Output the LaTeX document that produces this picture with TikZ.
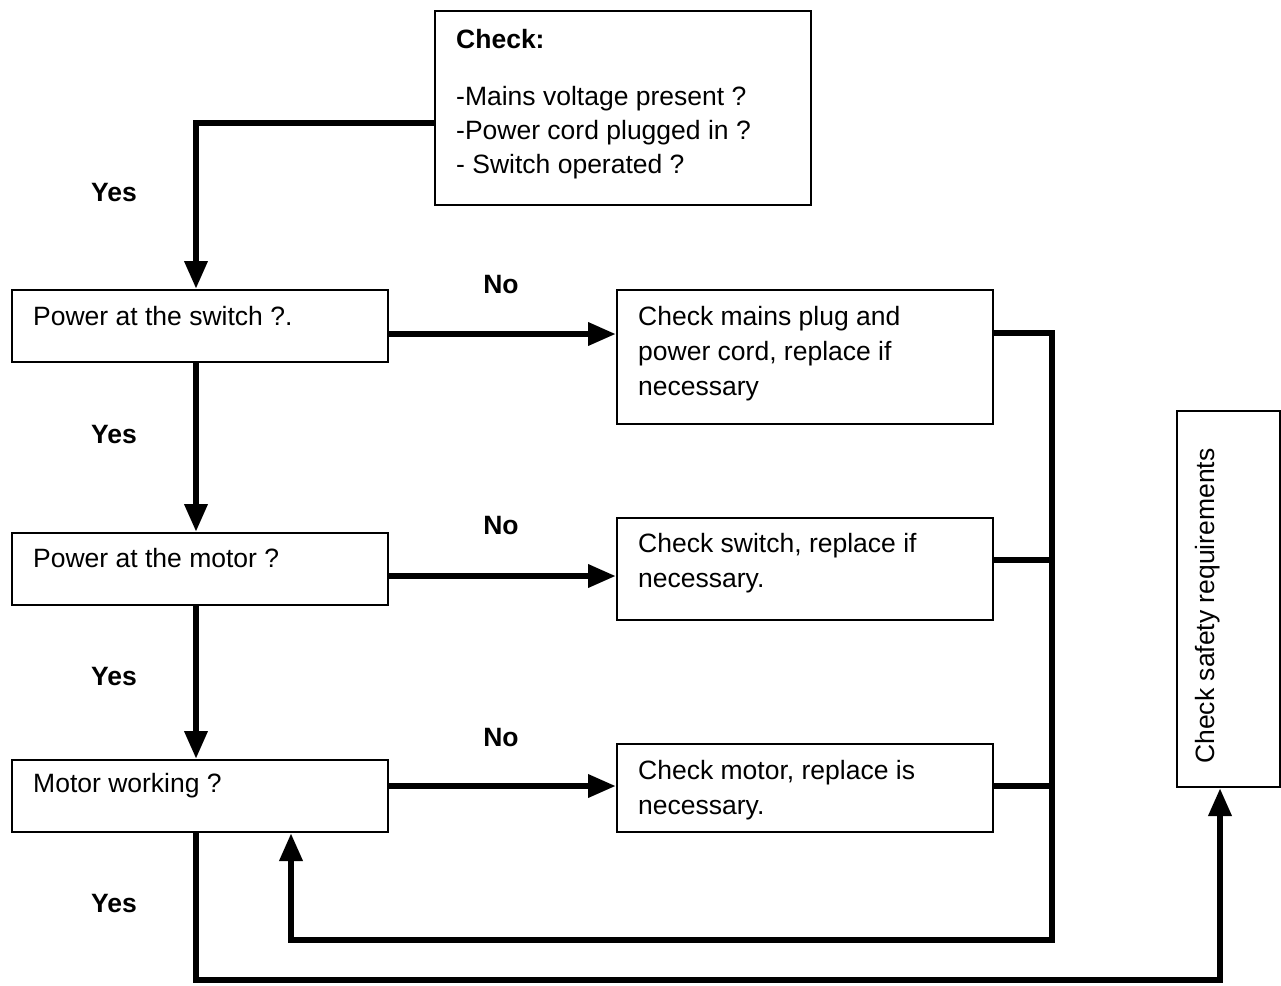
\documentclass[tikz,border=0pt]{standalone}
\usepackage{fontspec}
\setmainfont{Liberation Sans}
\usetikzlibrary{arrows.meta}
\begin{document}
\begin{tikzpicture}[x=1pt,y=-1pt,
  box/.style={draw,line width=2pt,rectangle,anchor=north west,inner sep=0pt},
  txt/.style={anchor=west,inner sep=0pt,align=left,font=\fontsize{26.5}{35}\selectfont},
  lbl/.style={inner sep=0pt,font=\fontsize{26.5}{35}\selectfont\bfseries},
  conn/.style={line width=6.5pt},
  arr/.style={line width=6.5pt,-{Triangle[width=22pt,length=28pt]}}]
\useasboundingbox (0,0) rectangle (1281,985);
% boxes
\node[box,minimum width=376pt,minimum height=194pt] (chk) at (434,10) {};
\node[txt] (chkt) at (456,39) {\bfseries Check:};
\node[txt,anchor=north west,font=\fontsize{26.5}{34}\selectfont] (chkl) at (456,86) {-Mains voltage present ?\\-Power cord plugged in ?\\- Switch operated ?};
\node[box,minimum width=376pt,minimum height=72pt] (ps) at (11,289) {};
\node[txt] (pst) at (33,316) {Power at the switch ?.};
\node[box,minimum width=376pt,minimum height=72pt] (pm) at (11,532) {};
\node[txt] (pmt) at (33,558) {Power at the motor ?};
\node[box,minimum width=376pt,minimum height=72pt] (mw) at (11,759) {};
\node[txt] (mwt) at (33,786) {Motor working ?};
\node[box,minimum width=376pt,minimum height=134pt] (cm) at (616,289) {};
\node[txt,anchor=north west] (cmt) at (638,306) {Check mains plug and\\power cord, replace if\\necessary};
\node[box,minimum width=376pt,minimum height=102pt] (cs) at (616,517) {};
\node[txt,anchor=north west] (cst) at (638,533) {Check switch, replace if\\necessary.};
\node[box,minimum width=376pt,minimum height=88pt] (cmo) at (616,743) {};
\node[txt,anchor=north west] (cmot) at (638,760) {Check motor, replace is\\necessary.};
\node[box,minimum width=103pt,minimum height=376pt] (saf) at (1176,410) {};
\node[txt,anchor=center,rotate=90] (saft) at (1208,606) {Check safety requirements};
% labels
\node[lbl] (y1) at (114,193) {Yes};
\node[lbl] (y2) at (114,435) {Yes};
\node[lbl] (y3) at (114,677) {Yes};
\node[lbl] (y4) at (114,903) {Yes};
\node[lbl] (n1) at (501,285) {No};
\node[lbl] (n2) at (501,526) {No};
\node[lbl] (n3) at (501,738) {No};
% coordinates
\coordinate (c1) at (196,123);
\coordinate (b1) at (1052,333);
\coordinate (b2) at (1052,940);
\coordinate (b3) at (291,940);
\coordinate (d1) at (196,980);
\coordinate (d2) at (1220,980);
% connectors
\draw[arr,line join=miter] (chk.west |- c1) -- (c1) -- (c1 |- ps.north);
\draw[arr] (196,361) -- (196,532);
\draw[arr] (196,604) -- (196,759);
\draw[arr] (ps.east |- 0,334) -- (cm.west |- 0,334);
\draw[arr] (pm.east |- 0,576) -- (cs.west |- 0,576);
\draw[arr] (mw.east |- 0,786) -- (cmo.west |- 0,786);
\draw[arr,line join=miter] (cm.east |- b1) -- (b1) -- (b2) -- (b3) -- (b3 |- mw.south);
\draw[conn] (cs.east |- 0,560) -- (1052,560);
\draw[conn] (cmo.east |- 0,786) -- (1052,786);
\draw[arr,line join=miter] (196,831) -- (d1) -- (d2) -- (d2 |- saf.south);
\end{tikzpicture}
\end{document}
